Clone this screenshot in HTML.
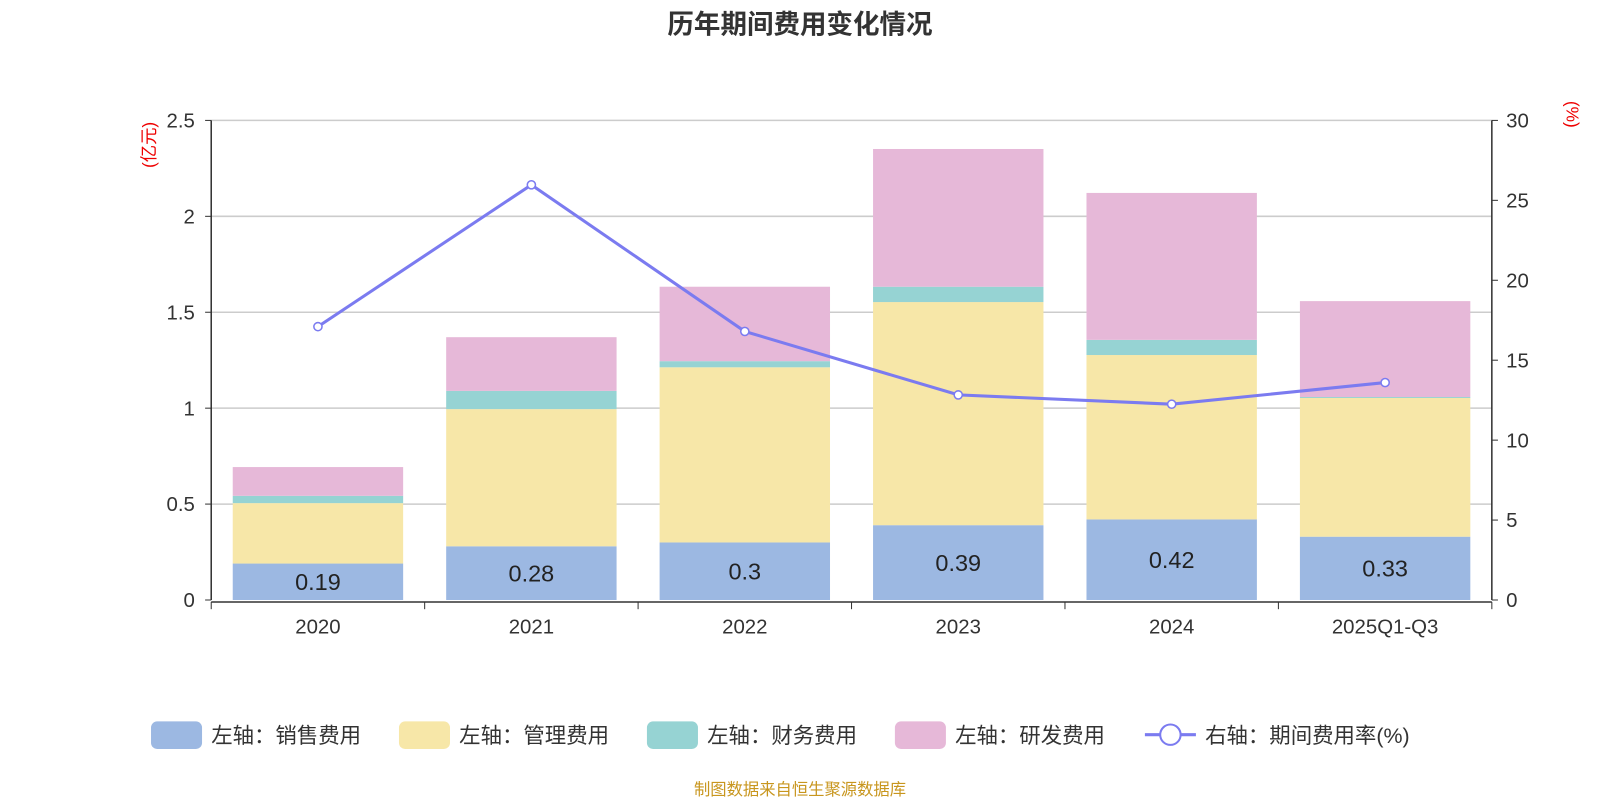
<!DOCTYPE html>
<html><head><meta charset="utf-8"><style>
body{margin:0;background:#fff;}
svg text{font-family:"Liberation Sans","Noto Sans CJK SC",sans-serif;}
</style></head><body>
<svg id="c" width="1600" height="800" viewBox="0 0 1568 784" xmlns="http://www.w3.org/2000/svg">
<text x="784" y="33" text-anchor="middle" font-size="26" font-weight="bold" fill="#333">历年期间费用变化情况</text>
<text transform="translate(152,142) rotate(-90)" text-anchor="middle" font-size="17" fill="#e00">(亿元)</text>
<text transform="translate(1535,112) rotate(90)" text-anchor="middle" font-size="17" fill="#e00">(%)</text>
<g id="grid"></g><g id="bars"></g><g id="axes"></g><g id="line"></g>
<g id="legend" font-size="21" fill="#333">
<rect x="148" y="707" width="50" height="27" rx="6" fill="#9cb8e2"/>
<text x="207" y="728">左轴：销售费用</text>
<rect x="391" y="707" width="50" height="27" rx="6" fill="#f7e7a8"/>
<text x="450" y="728">左轴：管理费用</text>
<rect x="634" y="707" width="50" height="27" rx="6" fill="#96d3d3"/>
<text x="693" y="728">左轴：财务费用</text>
<rect x="877" y="707" width="50" height="27" rx="6" fill="#e6b8d8"/>
<text x="936" y="728">左轴：研发费用</text>
<line x1="1122" y1="720" x2="1172" y2="720" stroke="#7b7bf0" stroke-width="3"/>
<circle cx="1147" cy="720" r="10" fill="#fff" stroke="#7b7bf0" stroke-width="2"/>
<text x="1181" y="728">右轴：期间费用率(%)</text>
</g>
<text x="784" y="779" text-anchor="middle" font-size="16" fill="#c8961e">制图数据来自恒生聚源数据库</text>
</svg>
<script>
const categories=["2020","2021","2022","2023","2024","2025Q1-Q3"];
const sales=[0.19,0.28,0.3,0.39,0.42,0.33];
const admin=[0.315,0.715,0.913,1.163,0.857,0.723];
const finance=[0.038,0.095,0.032,0.08,0.079,0.005];
const rd=[0.15,0.28,0.388,0.718,0.766,0.5];
const rate=[17.1,25.97,16.8,12.83,12.25,13.6];
const leftTicks=[0,0.5,1,1.5,2,2.5];
const rightTicks=[0,5,10,15,20,25,30];
const NS="http://www.w3.org/2000/svg";
const X0=207,X1=1462,Y0=588,Y1=118;
const band=(X1-X0)/categories.length;
const xc=i=>X0+band*(i+0.5);
const yl=v=>Y0-(v/2.5)*(Y0-Y1);
const yr=v=>Y0-(v/30)*(Y0-Y1);
function mk(t,a,p){const e=document.createElementNS(NS,t);for(const k in a)e.setAttribute(k,a[k]);p.appendChild(e);return e;}
const G=document.getElementById('grid'),B=document.getElementById('bars'),A=document.getElementById('axes'),L=document.getElementById('line');
leftTicks.forEach(v=>{
 if(v>0){const g=mk('line',{x1:X0,x2:X1,y1:yl(v),y2:yl(v),stroke:'#ccc','stroke-width':1.5},G);
 
 }
 const t=mk('text',{x:X0-16,y:yl(v)+7,'text-anchor':'end','font-size':20,fill:'#333'},A);t.textContent=v;
 
 
 mk('line',{x1:X0-6,x2:X0,y1:yl(v),y2:yl(v),stroke:'#333'},A);
});
rightTicks.forEach(v=>{
 const t=mk('text',{x:X1+14,y:yr(v)+7,'font-size':20,fill:'#333'},A);t.textContent=v;
 
 
 mk('line',{x1:X1,x2:X1+6,y1:yr(v),y2:yr(v),stroke:'#333'},A);
});
mk('line',{x1:X0,x2:X0,y1:Y1,y2:Y0,stroke:'#333','stroke-width':1.5},A);
mk('line',{x1:X1,x2:X1,y1:Y1,y2:Y0,stroke:'#333','stroke-width':1.5},A);
mk('line',{x1:X0,x2:X1,y1:Y0+2,y2:Y0+2,stroke:'#333','stroke-width':1.5},A);
for(let i=0;i<=categories.length;i++)mk('line',{x1:X0+band*i,x2:X0+band*i,y1:Y0+2,y2:Y0+9,stroke:'#333'},A);
const series=[[sales,'#9cb8e2','bar-sales'],[admin,'#f7e7a8','bar-admin'],[finance,'#96d3d3','bar-finance'],[rd,'#e6b8d8','bar-rd']];
const bw=167;
categories.forEach((c,i)=>{
 let base=0;
 series.forEach(([arr,col,nm])=>{
  const r=mk('rect',{x:xc(i)-bw/2,y:yl(base+arr[i]),width:bw,height:yl(base)-yl(base+arr[i]),fill:col},B);
  
  
  base+=arr[i];
 });
 const t=mk('text',{x:xc(i),y:(yl(0)+yl(sales[i]))/2+8,'text-anchor':'middle','font-size':23,fill:'#222'},B);
 t.textContent=sales[i];
 
 
 const xl=mk('text',{x:xc(i),y:621,'text-anchor':'middle','font-size':20,fill:'#333'},A);
 xl.textContent=c;
 
 
});
const pl=mk('polyline',{points:rate.map((v,i)=>xc(i)+','+yr(v)).join(' '),fill:'none',stroke:'#7b7bf0','stroke-width':3},L);


rate.forEach((v,i)=>{
 const p=mk('circle',{cx:xc(i),cy:yr(v),r:4,fill:'#fff',stroke:'#7b7bf0','stroke-width':1.5},L);
 
 
});
</script>
</body></html>
